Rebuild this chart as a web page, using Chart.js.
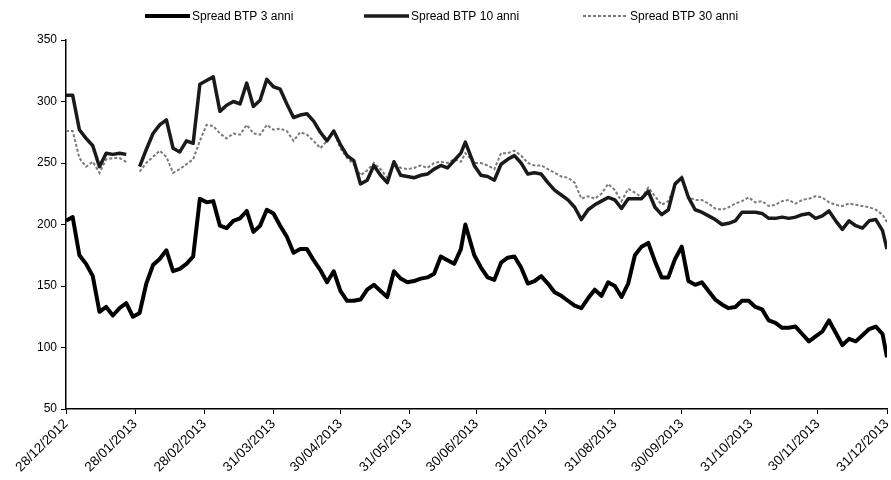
<!DOCTYPE html>
<html>
<head>
<meta charset="utf-8">
<script src="https://cdn.jsdelivr.net/npm/chart.js@4/dist/chart.umd.min.js"></script>
<style>
  html, body { margin: 0; padding: 0; background: #fff; }
  #wrap { width: 891px; height: 480px; position: relative; }
</style>
</head>
<body>
<div id="wrap"><canvas id="c" width="891" height="480"></canvas></div>
<script>
// Day offsets from 28/12/2012
const days = [
  0,3,6,9,12,15,18,21,24,27,30,33,36,39,42,45,48,51,54,57,
  60,63,66,69,72,75,78,81,84,87,90,93,96,99,102,105,108,111,114,117,
  120,123,126,129,132,135,138,141,144,147,150,153,156,159,162,165,168,171,174,177,
  179,183,186,189,192,195,198,201,204,207,210,213,216,219,222,225,228,231,234,237,
  240,243,246,249,252,255,258,261,264,267,270,273,276,279,282,285,288,291,294,297,
  300,303,306,309,312,315,318,321,324,327,330,333,336,339,342,345,348,351,354,357,360,363,366,368
];

const btp3 = [
  203,206,175,168,158,129,133,126,132,136,125,128,152,167,172,179,162,164,168,174,
  221,218,219,199,197,203,205,211,194,199,212,209,199,190,177,180,180,171,163,153,
  162,146,138,138,139,147,151,146,141,162,156,153,154,156,157,160,174,171,168,180,
  200,175,165,157,155,169,173,174,165,152,154,158,152,145,142,138,134,132,140,147,
  142,153,150,141,152,175,182,185,170,157,157,172,182,154,151,153,146,139,135,132,
  133,138,138,133,131,122,120,116,116,117,111,105,109,113,122,112,102,107,105,110,115,117,111,92
];

const btp10 = [
  305,305,277,270,264,247,258,257,258,257,null,247,261,274,281,285,262,259,268,266,
  314,317,320,292,297,300,298,315,296,301,318,312,310,298,287,289,290,284,275,268,
  276,265,256,252,233,236,248,240,234,251,240,239,238,240,241,245,248,246,252,258,
  267,248,240,239,236,249,253,256,250,241,242,241,234,228,224,220,214,204,212,216,
  219,222,220,213,221,221,221,227,214,208,212,233,238,222,212,210,207,204,200,201,
  203,210,210,210,209,205,205,206,205,206,208,209,205,207,211,203,196,203,199,197,203,204,195,180
];

const btp30 = [
  276,276,254,247,251,242,253,254,254,251,null,243,250,255,260,255,242,245,249,253,
  268,281,280,274,270,274,273,281,274,273,281,277,278,276,268,275,273,268,262,268,
  276,262,254,249,240,244,250,245,238,250,246,245,246,248,246,250,251,250,253,251,
  258,250,250,248,245,258,258,260,256,250,248,248,245,242,239,238,234,221,223,221,
  225,233,228,219,229,226,222,230,223,216,219,232,239,222,220,220,217,213,212,214,
  217,219,222,218,219,215,216,219,220,217,220,221,223,222,218,216,215,217,216,215,214,212,208,202
];

const tickDays = [0,31,62,93,123,154,184,215,246,276,307,337,368];
const tickLabels = ["28/12/2012","28/01/2013","28/02/2013","31/03/2013","30/04/2013","31/05/2013",
  "30/06/2013","31/07/2013","31/08/2013","30/09/2013","31/10/2013","30/11/2013","31/12/2013"];

const seriesNames = ["Spread BTP 3 anni","Spread BTP 10 anni","Spread BTP 30 anni"];

const FONT = '"Liberation Sans", Arial, Helvetica, sans-serif';

function toPts(vals) { return days.map((d, i) => ({ x: d, y: vals[i] })); }

const topLegend = {
  id: 'topLegend',
  afterDraw(chart) {
    const ctx = chart.ctx;
    ctx.save();
    ctx.font = '12px ' + FONT;
    ctx.textBaseline = 'middle';
    ctx.textAlign = 'left';
    chart.data.datasets.forEach((ds, i) => {
      const x0 = 145 + i * 219;
      const y = 16;
      ctx.strokeStyle = ds.borderColor;
      ctx.lineWidth = ds.borderWidth;
      ctx.setLineDash(ds.borderDash || []);
      ctx.beginPath();
      ctx.moveTo(x0, y);
      ctx.lineTo(x0 + 45, y);
      ctx.stroke();
      ctx.setLineDash([]);
      ctx.fillStyle = '#000';
      ctx.fillText(ds.label, x0 + 47, y + 1);
    });
    ctx.restore();
  }
};

new Chart(document.getElementById('c'), {
  type: 'line',
  data: {
    datasets: [
      { label: seriesNames[0], data: toPts(btp3), borderColor: '#000', borderWidth: 4, pointRadius: 0, tension: 0, spanGaps: false, borderJoinStyle: 'round' },
      { label: seriesNames[1], data: toPts(btp10), borderColor: '#1a1a1a', borderWidth: 3.5, pointRadius: 0, tension: 0, spanGaps: false, borderJoinStyle: 'round' },
      { label: seriesNames[2], data: toPts(btp30), borderColor: '#7a7a7a', borderWidth: 2, borderDash: [3, 2], pointRadius: 0, tension: 0, spanGaps: false }
    ]
  },
  options: {
    responsive: false,
    animation: false,
    events: [],
    layout: { padding: { top: 40, right: 4, left: 0, bottom: 0 } },
    plugins: { legend: { display: false }, tooltip: { enabled: false }, title: { display: false } },
    scales: {
      x: {
        type: 'linear',
        min: 0, max: 368,
        afterBuildTicks: s => { s.ticks = tickDays.map(v => ({ value: v })); },
        afterFit: s => { s.height = 71; s.paddingRight = 0; s.paddingLeft = 0; },
        ticks: {
          autoSkip: false, maxRotation: 45, minRotation: 45,
          color: '#000', font: { family: FONT, size: 13.5 }, padding: 2,
          callback: v => { const i = tickDays.indexOf(v); return i >= 0 ? tickLabels[i] : ''; }
        },
        grid: { display: true, drawOnChartArea: false, drawTicks: true, tickLength: 5, color: '#000' },
        border: { display: true, color: '#000', width: 1.5 }
      },
      y: {
        min: 50, max: 350,
        afterFit: s => { s.width = 66; },
        ticks: { stepSize: 50, color: '#000', font: { family: FONT, size: 12 }, padding: 4 },
        grid: { display: true, drawOnChartArea: false, drawTicks: true, tickLength: 5, color: '#000' },
        border: { display: true, color: '#000', width: 1.5 }
      }
    }
  },
  plugins: [topLegend]
});
</script>
</body>
</html>
